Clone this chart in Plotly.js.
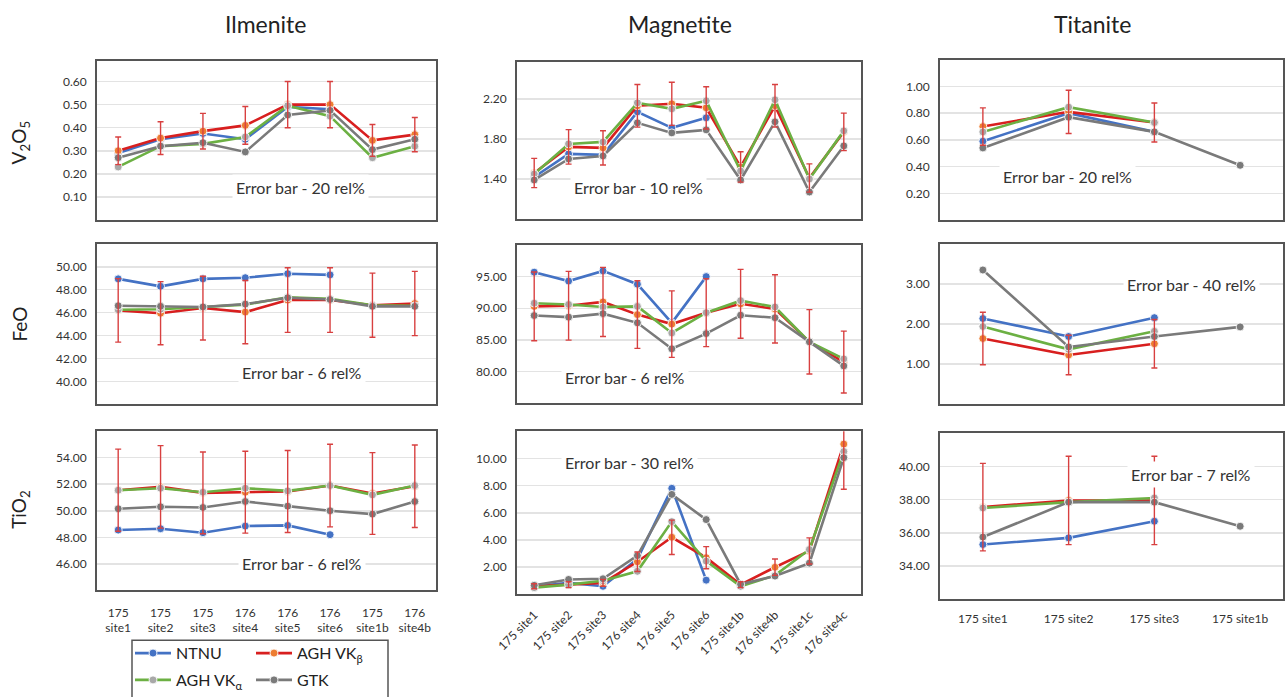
<!DOCTYPE html>
<html><head><meta charset="utf-8">
<script src="https://cdn.plot.ly/plotly-3.0.1.min.js"></script>
<style>html,body{margin:0;padding:0;background:#fff}#chart{width:1285px;height:697px}</style>
</head><body><div id="chart"></div>
<script>
// ---------- categories ----------
const ilmeniteSites  = ['175 site1','175 site2','175 site3','176 site4','176 site5','176 site6','175 site1b','176 site4b'];
const magnetiteSites = ['175 site1','175 site2','175 site3','176 site4','176 site5','176 site6','175 site1b','176 site4b','175 site1c','176 site4c'];
const titaniteSites  = ['175 site1','175 site2','175 site3','175 site1b'];

const columnTitles = ['Ilmenite','Magnetite','Titanite'];
const rowTitles = ['V<sub>2</sub>O<sub>5</sub>','FeO','TiO<sub>2</sub>'];
const seriesNames = ['NTNU','AGH VK<sub>β</sub>','AGH VK<sub>α</sub>','GTK'];

// error bar rel% (on AGH VKβ), row by row
const errV2O5 = [20, 10, 20];
const errFeO  = [6, 6, 40];
const errTiO2 = [6, 30, 7];

// ---------- V2O5 ----------
const ilm_V2O5_NTNU = [0.29, 0.35, 0.375, 0.35, 0.49, 0.48, null, null];
const ilm_V2O5_VKb  = [0.30, 0.355, 0.385, 0.41, 0.50, 0.50, 0.345, 0.37];
const ilm_V2O5_VKa  = [0.23, 0.32, 0.33, 0.36, 0.495, 0.45, 0.27, 0.32];
const ilm_V2O5_GTK  = [0.27, 0.32, 0.335, 0.295, 0.455, 0.475, 0.305, 0.35];

const mag_V2O5_NTNU = [1.42, 1.65, 1.64, 2.07, 1.91, 2.01, null, null, null, null];
const mag_V2O5_VKb  = [1.46, 1.72, 1.71, 2.13, 2.15, 2.11, 1.52, 2.13, 1.41, 1.87];
const mag_V2O5_VKa  = [1.45, 1.75, 1.77, 2.16, 2.10, 2.18, 1.48, 2.19, 1.40, 1.88];
const mag_V2O5_GTK  = [1.39, 1.60, 1.63, 1.96, 1.86, 1.89, 1.39, 1.97, 1.27, 1.73];

const tit_V2O5_NTNU = [0.59, 0.80, 0.66, null];
const tit_V2O5_VKb  = [0.70, 0.81, 0.73, null];
const tit_V2O5_VKa  = [0.66, 0.845, 0.73, null];
const tit_V2O5_GTK  = [0.54, 0.77, 0.66, 0.41];

// ---------- FeO ----------
const ilm_FeO_NTNU = [48.95, 48.3, 48.95, 49.05, 49.4, 49.3, null, null];
const ilm_FeO_VKb  = [46.2, 45.95, 46.4, 46.05, 47.1, 47.1, 46.65, 46.8];
const ilm_FeO_VKa  = [46.25, 46.3, 46.5, 46.7, 47.35, 47.2, 46.65, 46.6];
const ilm_FeO_GTK  = [46.6, 46.55, 46.5, 46.75, 47.3, 47.15, 46.55, 46.55];

const mag_FeO_NTNU = [95.7, 94.3, 95.9, 93.8, 87.7, 95.0, null, null, null, null];
const mag_FeO_VKb  = [90.3, 90.4, 91.0, 89.0, 87.5, 89.3, 90.7, 89.9, 84.7, 81.5];
const mag_FeO_VKa  = [90.8, 90.6, 90.2, 90.3, 86.1, 89.3, 91.2, 90.2, 84.7, 82.0];
const mag_FeO_GTK  = [88.85, 88.6, 89.15, 87.7, 83.6, 86.0, 88.9, 88.5, 84.7, 80.9];

const tit_FeO_NTNU = [2.14, 1.69, 2.16, null];
const tit_FeO_VKb  = [1.64, 1.23, 1.51, null];
const tit_FeO_VKa  = [1.94, 1.37, 1.82, null];
const tit_FeO_GTK  = [3.35, 1.43, 1.69, 1.93];

// ---------- TiO2 ----------
const ilm_TiO2_NTNU = [48.55, 48.65, 48.35, 48.85, 48.9, 48.2, null, null];
const ilm_TiO2_VKb  = [51.55, 51.8, 51.35, 51.4, 51.45, 51.9, 51.3, 51.85];
const ilm_TiO2_VKa  = [51.55, 51.7, 51.4, 51.7, 51.5, 51.9, 51.2, 51.9];
const ilm_TiO2_GTK  = [50.15, 50.3, 50.25, 50.7, 50.35, 50.0, 49.75, 50.7];

const mag_TiO2_NTNU = [0.6, 0.85, 0.6, 2.6, 7.8, 1.05, null, null, null, null];
const mag_TiO2_VKb  = [0.6, 0.72, 0.85, 2.4, 4.2, 2.7, 0.72, 2.0, 3.2, 11.05];
const mag_TiO2_VKa  = [0.5, 0.72, 1.0, 1.7, 5.35, 2.45, 0.6, 1.4, 3.3, 10.5];
const mag_TiO2_GTK  = [0.67, 1.1, 1.15, 2.85, 7.35, 5.5, 0.75, 1.35, 2.3, 10.05];

const tit_TiO2_NTNU = [35.3, 35.7, 36.7, null];
const tit_TiO2_VKb  = [37.55, 37.95, 37.95, null];
const tit_TiO2_VKa  = [37.5, 37.85, 38.1, null];
const tit_TiO2_GTK  = [35.75, 37.85, 37.85, 36.4];

// y-axis ticks per row/col
const yTicks = [
  [[0.1,0.2,0.3,0.4,0.5,0.6], [1.4,1.8,2.2], [0.2,0.4,0.6,0.8,1.0]],
  [[40,42,44,46,48,50], [80,85,90,95], [1,2,3]],
  [[46,48,50,52,54], [2,4,6,8,10], [34,36,38,40]]
];
const yRanges = [
  [[0,0.69],[1.0,2.57],[0,1.2]],
  [[38,52],[75,100],[0,4]],
  [[44,56],[0,12],[32,42]]
];

// ---------- assembly ----------
const sitesByCol = [ilmeniteSites, magnetiteSites, titaniteSites];
const panels = [
  [[ilm_V2O5_NTNU, ilm_V2O5_VKb, ilm_V2O5_VKa, ilm_V2O5_GTK],
   [mag_V2O5_NTNU, mag_V2O5_VKb, mag_V2O5_VKa, mag_V2O5_GTK],
   [tit_V2O5_NTNU, tit_V2O5_VKb, tit_V2O5_VKa, tit_V2O5_GTK]],
  [[ilm_FeO_NTNU, ilm_FeO_VKb, ilm_FeO_VKa, ilm_FeO_GTK],
   [mag_FeO_NTNU, mag_FeO_VKb, mag_FeO_VKa, mag_FeO_GTK],
   [tit_FeO_NTNU, tit_FeO_VKb, tit_FeO_VKa, tit_FeO_GTK]],
  [[ilm_TiO2_NTNU, ilm_TiO2_VKb, ilm_TiO2_VKa, ilm_TiO2_GTK],
   [mag_TiO2_NTNU, mag_TiO2_VKb, mag_TiO2_VKa, mag_TiO2_GTK],
   [tit_TiO2_NTNU, tit_TiO2_VKb, tit_TiO2_VKa, tit_TiO2_GTK]]
];
const errPct = [errV2O5, errFeO, errTiO2];

const W = 1285, H = 697;
const px = v => v / W;
const py = v => 1 - v / H;
const FONT = 'Lato, "Open Sans", sans-serif';
const TXT = '#333333';

const colX = [[97,436],[517,861],[940,1283]];
const boxY = [
  [[61,221],[62,220],[60,221]],
  [[245,406],[246,405],[245,406]],
  [[433,593],[433,597],[435,602]]
];

const lineColors = ['#4472C4','#D81F1F','#6CB043','#7A7A7A'];
const markerColors = ['#4472C4','#ED7D31','#A8A8A8','#7A7A7A'];
const legendOf = ['legend','legend','legend2','legend2'];
const errBox = [
  [[300,188],[638,188],[1067,177]],
  [[302,374],[625,379],[1191,286]],
  [[302,566],[629,465],[1191,477]]
];

const traces = [];
const layout = {
  width: W, height: H,
  margin: {l:0, r:0, t:0, b:0},
  paper_bgcolor: '#fff', plot_bgcolor: '#fff',
  font: {family: FONT, color: TXT},
  showlegend: true,
  annotations: [], shapes: []
};

for (let r = 0; r < 3; r++) {
  for (let c = 0; c < 3; c++) {
    const k = r * 3 + c + 1;
    const xa = 'x' + (k === 1 ? '' : k), ya = 'y' + (k === 1 ? '' : k);
    const xName = 'xaxis' + (k === 1 ? '' : k), yName = 'yaxis' + (k === 1 ? '' : k);
    const sites = sitesByCol[c];
    const series = panels[r][c];
    for (let s = 0; s < 4; s++) {
      traces.push({
        type: 'scatter', mode: 'lines+markers',
        x: sites, y: series[s], xaxis: xa, yaxis: ya,
        name: seriesNames[s], legendgroup: 'g' + s, legend: legendOf[s],
        showlegend: (r === 0 && c === 0),
        connectgaps: false,
        line: {color: lineColors[s], width: 2.6},
        marker: {color: markerColors[s], size: 8, line: {color: 'rgba(255,255,255,0.85)', width: 1}},
        hoverinfo: 'x+y+name'
      });
    }
    // error bars on AGH VKβ, drawn on top
    traces.push({
      type: 'scatter', mode: 'markers',
      x: sites, y: series[1], xaxis: xa, yaxis: ya,
      showlegend: false, hoverinfo: 'skip',
      marker: {size: 1, color: 'rgba(0,0,0,0)'},
      error_y: {type: 'percent', value: errPct[r][c], color: '#D84040', thickness: 1.4, width: 3}
    });

    const [x0, x1] = colX[c];
    const [y0, y1] = boxY[r][c];
    let ticktext = sites;
    let tickangle = 0;
    if (c === 0) ticktext = sites.map(t => t.replace(' ', '<br>'));
    if (c === 1) tickangle = -45;
    layout[xName] = {
      domain: [px(x0), px(x1)], anchor: ya,
      type: 'category', range: [-0.5, sites.length - 0.5],
      showline: true, mirror: true, linecolor: '#555', linewidth: 1.8,
      showgrid: false, zeroline: false, ticks: '',
      tickmode: 'array', tickvals: sites, ticktext: ticktext,
      showticklabels: r === 2, tickangle: tickangle,
      ticklabelstandoff: c === 0 ? 10 : (c === 1 ? 7 : 7),
      tickfont: {size: 12, color: TXT, family: FONT},
      fixedrange: true
    };
    layout[yName] = {
      domain: [py(y1), py(y0)], anchor: xa,
      range: yRanges[r][c],
      showline: true, mirror: true, linecolor: '#555', linewidth: 1.8,
      showgrid: true, gridcolor: '#E3E3E3', gridwidth: 1.5, zeroline: false,
      ticks: '', tickmode: 'array', tickvals: yTicks[r][c], tickformat: '.2f',
      ticklabelstandoff: 6,
      tickfont: {size: 12, color: TXT, family: FONT},
      fixedrange: true
    };
    layout.annotations.push({
      xref: 'paper', yref: 'paper', x: px(errBox[r][c][0]), y: py(errBox[r][c][1]),
      xanchor: 'center', yanchor: 'middle', showarrow: false,
      text: 'Error bar - ' + errPct[r][c] + ' rel%',
      font: {size: 16, color: '#333', family: FONT},
      bgcolor: '#fff', borderpad: 3
    });
  }
}

// column titles
const titleX = [265, 680, 1092];
columnTitles.forEach((t, i) => layout.annotations.push({
  xref: 'paper', yref: 'paper', x: px(titleX[i]), y: py(24),
  xanchor: 'center', yanchor: 'middle', showarrow: false,
  text: t, font: {size: 23, color: '#222', family: FONT}
}));
// row titles
const rowY = [143, 326, 512];
rowTitles.forEach((t, i) => layout.annotations.push({
  xref: 'paper', yref: 'paper', x: px(20), y: py(rowY[i]),
  xanchor: 'center', yanchor: 'middle', showarrow: false, textangle: -90,
  text: t, font: {size: 19, color: '#222', family: FONT}
}));

// legends (2 x 2)
const legCommon = {
  orientation: 'h', xanchor: 'left', yanchor: 'middle',
  bgcolor: 'rgba(0,0,0,0)', borderwidth: 0,
  font: {size: 16, color: '#222', family: FONT},
  entrywidth: 70, entrywidthmode: 'pixels', itemwidth: 36, tracegroupgap: 0
};
layout.legend = Object.assign({}, legCommon, {x: px(130), y: py(656)});
layout.legend2 = Object.assign({}, legCommon, {x: px(130), y: py(683)});
layout.shapes.push({
  type: 'rect', xref: 'paper', yref: 'paper',
  x0: px(132), x1: px(388), y0: py(712), y1: py(643),
  line: {color: '#555', width: 1.5}, fillcolor: 'rgba(0,0,0,0)'
});

Plotly.newPlot('chart', traces, layout, {displayModeBar: false, staticPlot: true});
</script>
</body></html>
